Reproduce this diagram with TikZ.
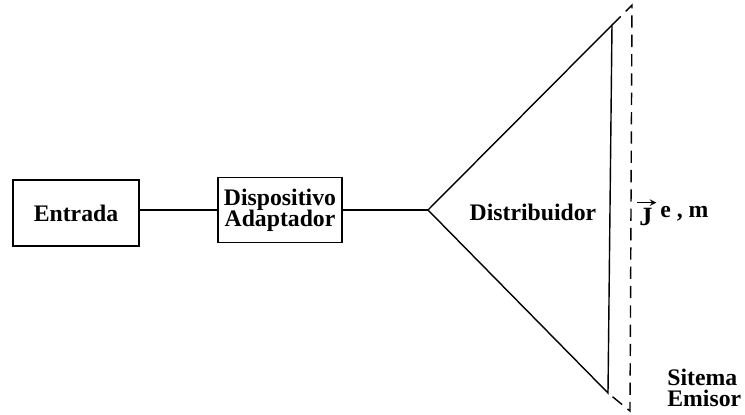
\documentclass[tikz,border=0pt]{standalone}
\usepackage{fontspec}
\setmainfont{Liberation Serif}
\usetikzlibrary{positioning}

\begin{document}
\begin{tikzpicture}[x=0.02cm,y=-0.02cm, font=\bfseries\fontsize{13.5}{15}\selectfont,
  caja/.style={draw,line width=1pt,inner sep=1pt,align=center},
  linea/.style={line width=0.8pt}]
  \useasboundingbox (0,0) rectangle (745,414);
  \node[caja,minimum width=2.52cm,minimum height=1.32cm] (entrada) at (76,213) {Entrada};
  \node[caja,minimum width=2.48cm,minimum height=1.3cm] (adaptador) at (280,210) {Dispositivo\\[-3pt]Adaptador};
  \coordinate (apex) at (428,210);
  \coordinate (arriba) at (612,25);
  \coordinate (abajo) at (608,393);
  \coordinate (darriba) at (632,5);
  \coordinate (dabajo) at (630,411);
  \draw[linea] (entrada.east |- adaptador) -- (adaptador);
  \draw[linea] (adaptador.east |- apex) -- (apex);
  \draw[linea] (arriba) -- (apex) -- (abajo) -- cycle;
  \draw[linea,dashed,dash pattern=on 7pt off 4pt] (arriba) -- (darriba) -- (dabajo) -- (abajo);
  \node (distribuidor) at (533,212) {Distribuidor};
  \node[inner sep=0pt,font=\bfseries\fontsize{15}{17}\selectfont] (jota) at (646,217) {J};
  \draw[line width=0.7pt,-stealth] ([xshift=-1pt,yshift=3pt]jota.north west) -- ([xshift=2pt,yshift=3pt]jota.north east);
  \node[anchor=north west,inner sep=0pt] (em) at ([xshift=4pt,yshift=1pt]jota.north east) {e , m};
  \node[align=left,anchor=west,inner sep=0pt] (emisor) at (667,388) {Sitema\\[-3pt]Emisor};
\end{tikzpicture}
\end{document}
